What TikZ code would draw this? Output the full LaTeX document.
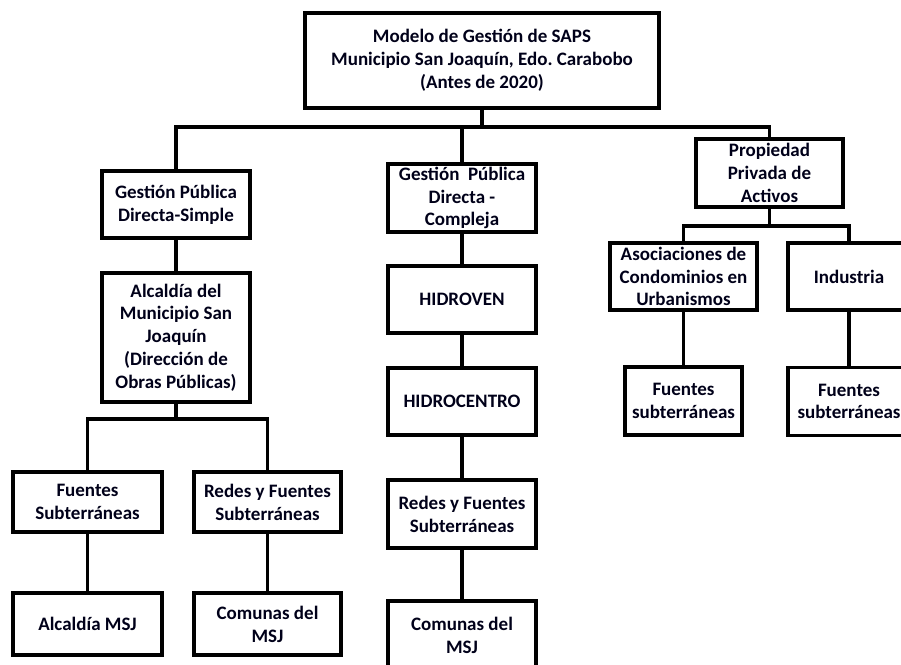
\documentclass[tikz,border=0pt]{standalone}
\usepackage{fontspec}
\setmainfont{Carlito}
\frenchspacing
\begin{document}
\begin{tikzpicture}[x=1pt,y=1pt,
  bx/.style={draw=black, line width=3.2pt, fill=white, inner sep=0pt, outer sep=0pt,
    align=center, font=\bfseries\fontsize{19}{22.8}\selectfont, text=black!90!blue},
  cn/.style={draw=black, line width=3.2pt}]
\useasboundingbox (0,0) rectangle (901,-664);
\fill[white] (0,0) rectangle (901,-664);
% top
\node[bx, minimum width=354, minimum height=95] (top) at (482,-60.5)
  {Modelo de Gestión de SAPS\\Municipio San Joaquín, Edo. Carabobo\\(Antes de 2020)};
% left branch
\node[bx, minimum width=148, minimum height=67] (gps) at (176,-204.5)
  {Gestión Pública\\Directa-Simple};
\node[bx, minimum width=148, minimum height=129] (alc) at (176,-337.5)
  {Alcaldía del\\Municipio San\\Joaquín\\(Dirección de\\Obras Públicas)};
\node[bx, minimum width=149, minimum height=60] (fs1) at (87.5,-502)
  {Fuentes\\Subterráneas};
\node[bx, minimum width=147, minimum height=60] (rf1) at (267.5,-502)
  {Redes y Fuentes\\Subterráneas};
\node[bx, minimum width=149, minimum height=62] (am) at (87.5,-624)
  {Alcaldía MSJ};
\node[bx, minimum width=147, minimum height=62] (cm1) at (267.5,-624)
  {Comunas del\\MSJ};
% center branch
\node[bx, minimum width=148, minimum height=68] (gpc) at (462,-198)
  {Gestión~ Pública\\Directa -\\Compleja};
\node[bx, minimum width=148, minimum height=67] (hv) at (462,-299.5)
  {HIDROVEN};
\node[bx, minimum width=148, minimum height=67] (hc) at (462,-401.5)
  {HIDROCENTRO};
\node[bx, minimum width=148, minimum height=68] (rf2) at (462,-514)
  {Redes y Fuentes\\Subterráneas};
\node[bx, minimum width=148, minimum height=68] (cm2) at (462,-635)
  {Comunas del\\MSJ};
% right branch
\node[bx, minimum width=147, minimum height=68] (ppa) at (769.5,-173)
  {Propiedad\\Privada de\\Activos};
\node[bx, minimum width=147, minimum height=67] (aso) at (683.5,-276.5)
  {Asociaciones de\\Condominios en\\Urbanismos};
\node[bx, minimum width=122, minimum height=67] (ind) at (849,-276.5)
  {Industria};
\node[bx, minimum width=117, minimum height=68] (fs2) at (683.5,-401)
  {Fuentes\\subterráneas};
\node[bx, minimum width=122, minimum height=68] (fs3) at (849,-401.5)
  {Fuentes\\subterráneas};
% bus coordinates
\coordinate (h1) at (0,-127);
\coordinate (h2) at (0,-419);
\coordinate (h3) at (0,-226);
% connectors
\draw[cn] (top.south) -- (top.south |- h1);
\draw[cn] (gps.north) -- (gps.north |- h1) -- (ppa.north |- h1) -- (ppa.north);
\draw[cn] (gpc.north) -- (gpc.north |- h1);
\draw[cn] (gps.south) -- (alc.north);
\draw[cn] (alc.south) -- (alc.south |- h2);
\draw[cn] (fs1.north) -- (fs1.north |- h2) -- (rf1.north |- h2) -- (rf1.north);
\draw[cn] (fs1.south) -- (am.north);
\draw[cn] (rf1.south) -- (cm1.north);
\draw[cn] (gpc.south) -- (hv.north);
\draw[cn] (hv.south) -- (hc.north);
\draw[cn] (hc.south) -- (rf2.north);
\draw[cn] (rf2.south) -- (cm2.north);
\draw[cn] (ppa.south) -- (ppa.south |- h3);
\draw[cn] (aso.north) -- (aso.north |- h3) -- (ind.north |- h3) -- (ind.north);
\draw[cn] (aso.south) -- (fs2.north);
\draw[cn] (ind.south) -- (fs3.north);
\end{tikzpicture}
\end{document}
